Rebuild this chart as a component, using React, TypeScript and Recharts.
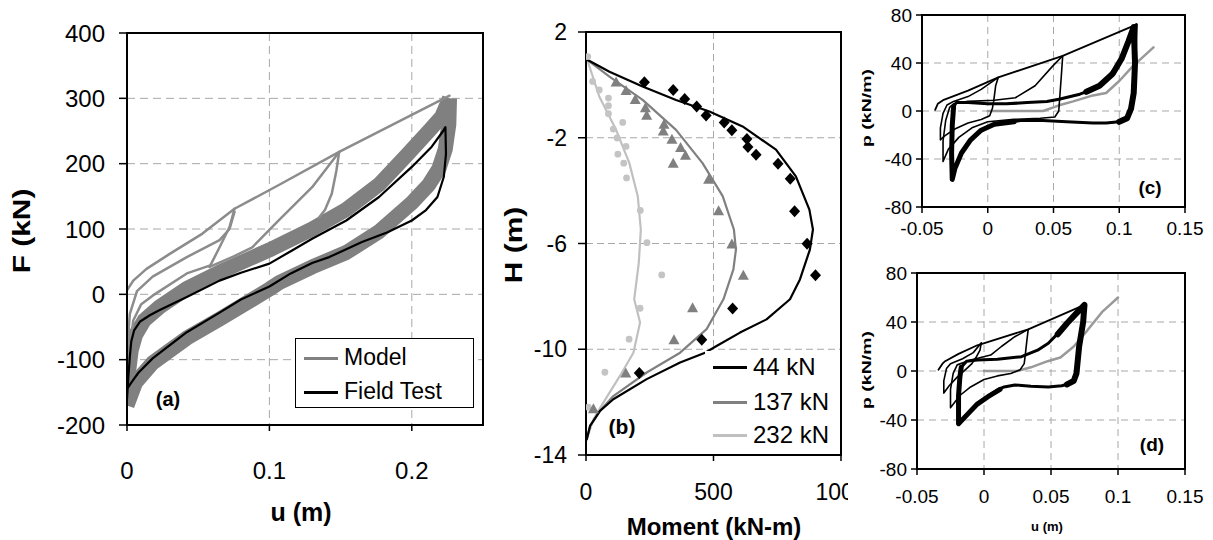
import {
  LineChart,
  ComposedChart,
  Line,
  Scatter,
  XAxis,
  YAxis,
  CartesianGrid,
  ReferenceArea,
} from "recharts";

const FONT = '"Liberation Sans", Arial, Helvetica, sans-serif';

// ---- panel (a): F vs u ----
const uTicksA = [0, 0.1, 0.2];
const fTicksA = [-200, -100, 0, 100, 200, 300, 400];

const modelEnv = [[0, 6], [0.0044, 21], [0.0137, 39], [0.03, 62], [0.053, 93], [0.0755, 131], [0.1063, 167], [0.149, 218], [0.2265, 304]];
const modelLoopA = [[0, -90], [0.002, -30], [0.007, 5], [0.018, 27], [0.042, 57], [0.065, 83], [0.072, 100], [0.0755, 126]];
const modelLoopB = [[0, -120], [0.0044, -40], [0.01, -15], [0.018, -2], [0.042, 32], [0.058, 44]];
const modelUnload1 = [[0.0755, 131], [0.072, 103], [0.065, 72], [0.058, 42]];
const modelReload2 = [[0.058, 42], [0.075, 58], [0.088, 72], [0.106, 112], [0.13, 164], [0.149, 218]];
const modelUnload2 = [[0.149, 218], [0.1471, 190], [0.1438, 154], [0.139, 129], [0.135, 118]];
const modelUpperBand = [[0, -170], [0.001, -120], [0.003, -85], [0.006, -62], [0.012, -40], [0.023, -19], [0.042, 9], [0.065, 34], [0.1, 68], [0.13, 100], [0.154, 130], [0.177, 168], [0.196, 212], [0.212, 250], [0.221, 272], [0.2265, 300]];
const modelLowerBand = [[0.2265, 300], [0.226, 260], [0.2235, 222], [0.219, 192], [0.212, 168], [0.2, 140], [0.177, 96], [0.154, 64], [0.13, 42], [0.107, 18], [0.1, 8], [0.065, -38], [0.042, -67], [0.018, -105], [0.006, -135], [0, -170]];
const fieldTest = [[0, -160], [0.001, -125], [0.002, -95], [0.003, -72], [0.005, -55], [0.009, -42], [0.016, -32], [0.023, -24], [0.042, -4], [0.065, 21], [0.08, 33], [0.1, 47], [0.115, 66], [0.13, 85], [0.154, 113], [0.177, 149], [0.2, 195], [0.214, 226], [0.222, 250], [0.2236, 256], [0.224, 215], [0.2225, 180], [0.218, 149], [0.21, 129], [0.2, 113], [0.183, 95], [0.165, 80], [0.142, 57], [0.13, 48], [0.115, 32], [0.1, 12], [0.08, -8], [0.065, -28], [0.042, -58], [0.018, -98], [0.008, -120], [0.003, -135], [0, -145]];

// ---- panel (b): depth vs moment ----
const mTicksB = [0, 500, 1000];
const hTicksB = [-14, -10, -6, -2, 2];

const line44 = [[5, 0.95], [92, 0.5], [222, -0.06], [353, -0.57], [484, -1.01], [614, -1.57], [745, -2.45], [823, -3.46], [876, -4.72], [890, -5.47], [878, -6.23], [839, -7.36], [800, -8.11], [708, -8.87], [604, -9.37], [512, -9.88], [467, -10.13], [369, -10.5], [238, -11.13], [107, -11.89], [55, -12.33], [16, -12.9], [3, -13.4]];
const line137 = [[5, 0.95], [92, 0.31], [222, -0.57], [353, -1.7], [457, -2.96], [536, -4.21], [580, -5.47], [588, -6.23], [578, -6.98], [539, -8.11], [473, -9.24], [369, -10.13], [238, -10.88], [107, -11.77], [55, -12.33], [16, -12.9], [3, -13.4]];
const line232 = [[5, 0.95], [52, -0.44], [118, -1.7], [170, -2.96], [203, -4.21], [215, -5.47], [207, -6.73], [189, -8.11], [212, -8.99], [186, -10.13], [133, -11.01], [68, -12.02], [29, -12.65], [3, -13.4]];
const pts44 = [[229, 0.1], [342, -0.19], [387, -0.53], [434, -0.82], [471, -1.16], [542, -1.42], [572, -1.72], [631, -2.05], [635, -2.35], [667, -2.64], [753, -2.98], [801, -3.55], [818, -4.78], [867, -6.01], [900, -7.2], [575, -8.46], [454, -9.64], [209, -10.9]];
const pts137 = [[118, 0.09], [157, -0.23], [193, -0.57], [233, -0.88], [238, -1.17], [306, -1.51], [303, -1.76], [337, -2.08], [371, -2.39], [390, -2.68], [342, -2.98], [481, -3.59], [520, -4.78], [572, -6.04], [617, -7.22], [418, -8.45], [345, -9.66], [156, -10.92], [29, -12.27]];
const pts232 = [[7, 1.07], [26, 0.13], [52, -0.19], [88, -0.5], [88, -0.79], [88, -1.09], [144, -1.42], [107, -1.67], [122, -2.01], [157, -2.33], [125, -2.62], [148, -2.96], [159, -3.52], [213, -4.75], [239, -5.97], [297, -7.19], [212, -8.45], [169, -9.62], [74, -10.87], [9, -12.19]];

// ---- panels (c), (d): p-y loops ----
const uTicksCD = [-0.05, 0, 0.05, 0.1, 0.15];
const pTicksCD = [-80, -40, 0, 40, 80];

const cEnv = [[-0.04, 1], [-0.038, 6], [-0.034, 9], [-0.027, 12], [-0.015, 17], [0.008, 28], [0.057, 46], [0.113, 72]];
const cLoop1 = [[0.008, 28], [0.006, 21], [0.0045, 8], [0.0035, 2], [0.0015, -4], [-0.005, -7], [-0.015, -10], [-0.025, -15], [-0.033, -21], [-0.036, -24], [-0.036, -14], [-0.034, -2], [-0.031, 5], [-0.026, 8], [-0.015, 12], [-0.005, 18], [0.008, 28]];
const cLoop2 = [[0.057, 46], [0.056, 30], [0.055, 15], [0.054, 0], [0.051, -5], [0.04, -6], [0.02, -7], [0, -9], [-0.012, -14], [-0.022, -22], [-0.03, -32], [-0.034, -42], [-0.034, -25], [-0.032, -8], [-0.029, 3], [-0.026, 6], [-0.015, 8], [0.005, 9], [0.021, 11], [0.036, 21], [0.049, 37], [0.057, 46]];
const cThick = [[-0.027, -57], [-0.0275, -35], [-0.027, -12], [-0.026, 3], [-0.024, 7], [-0.015, 7], [0, 6], [0.014, 6], [0.03, 7], [0.045, 8], [0.055, 10], [0.07, 14], [0.08, 18], [0.09, 26], [0.1, 40], [0.106, 57], [0.111, 70], [0.113, 72], [0.112, 40], [0.111, 15], [0.109, 2], [0.106, -6], [0.1, -9], [0.09, -10], [0.08, -10], [0.06, -9], [0.042, -8], [0.025, -8], [0.01, -10], [0, -13], [-0.008, -19], [-0.015, -27], [-0.021, -37], [-0.025, -48], [-0.027, -57]];
const cBandR = [[0.075, 16], [0.085, 21], [0.095, 31], [0.102, 44], [0.107, 58], [0.111, 70], [0.112, 40], [0.111, 15], [0.109, 2], [0.106, -6], [0.1, -9]];
const cBandL = [[0.02, -9], [0.005, -11], [-0.005, -16], [-0.013, -24], [-0.02, -35], [-0.025, -48], [-0.027, -57], [-0.0275, -35], [-0.027, -12], [-0.026, 3]];
const cMono = [[0, 0], [0.02, 0], [0.042, 0], [0.05, 3], [0.055, 5], [0.065, 8], [0.08, 13], [0.09, 15], [0.1, 25], [0.11, 37], [0.12, 47], [0.126, 53]];

const dEnv = [[-0.034, 1], [-0.031, 6], [-0.029, 8], [-0.019, 14], [-0.005, 21], [0.033, 34], [0.075, 54]];
const dLoop1 = [[-0.002, 23], [-0.003, 17], [-0.006, 11], [-0.009, 6], [-0.013, 2], [-0.02, -5], [-0.026, -12], [-0.03, -18], [-0.03, -8], [-0.028, 2], [-0.025, 6], [-0.016, 10], [-0.008, 15], [-0.002, 23]];
const dLoop2 = [[0.033, 34], [0.032, 25], [0.031, 15], [0.03, 6], [0.027, 1], [0.02, -2], [0.01, -4], [0, -7], [-0.01, -13], [-0.018, -20], [-0.025, -30], [-0.025, -15], [-0.023, -2], [-0.02, 5], [-0.01, 9], [0.005, 13], [0.013, 20], [0.023, 28], [0.033, 34]];
const dThick = [[-0.019, -43], [-0.019, -20], [-0.018, -5], [-0.017, 3], [-0.013, 8], [-0.005, 9], [0.01, 9.5], [0.028, 11.7], [0.04, 17], [0.048, 22.6], [0.06, 36], [0.068, 46], [0.075, 54], [0.074, 40], [0.071, 20], [0.069, -2], [0.067, -8], [0.065, -10], [0.058, -12], [0.048, -13], [0.035, -12.5], [0.023, -11.4], [0.015, -13], [0.01, -15.5], [-0.002, -24], [-0.007, -29], [-0.013, -36], [-0.019, -43]];
const dBandR = [[0.055, 30], [0.062, 39], [0.068, 46], [0.075, 54], [0.074, 40], [0.071, 20], [0.069, -2], [0.067, -8], [0.062, -11]];
const dBandL = [[0.012, -15], [0.003, -21], [-0.005, -27], [-0.012, -35], [-0.019, -43], [-0.019, -20], [-0.018, -5], [-0.017, 3]];
const dMono = [[0, 0], [0.025, 0], [0.035, 3], [0.0475, 8], [0.057, 11], [0.067, 20], [0.077, 33], [0.088, 48], [0.095, 55], [0.1, 60]];

type Pt = { x: number; y: number };
const pts = (a: number[][]): Pt[] => a.map(([x, y]) => ({ x, y }));

const axisLine = { stroke: "#000", strokeWidth: 2 };
const tickLine = { stroke: "#000", strokeWidth: 1.5 };
const GRID = "#a8a8a8";

const curve = (key: string, data: number[][], color: string, width: number, cap = "round") => (
  <Line
    key={key}
    data={pts(data)}
    dataKey="y"
    type="linear"
    stroke={color}
    strokeWidth={width}
    strokeLinejoin="round"
    strokeLinecap={cap as any}
    dot={false}
    activeDot={false}
    legendType="none"
    isAnimationActive={false}
  />
);

const Diamond = (p: any) => (
  <path d={`M${p.cx},${p.cy - 6}L${p.cx + 5.5},${p.cy}L${p.cx},${p.cy + 6}L${p.cx - 5.5},${p.cy}Z`} fill="#000" />
);
const Triangle = (p: any) => (
  <path d={`M${p.cx},${p.cy - 6}L${p.cx + 5.5},${p.cy + 4}L${p.cx - 5.5},${p.cy + 4}Z`} fill="#808080" />
);
const Dot = (p: any) => <circle cx={p.cx} cy={p.cy} r={3.4} fill="#c4c4c4" />;

// centred text; rotated labels are stretched along their length like the original
function Txt({ x, y, size, bold, rotate, stretch = 1, children }: any) {
  return (
    <div
      style={{
        position: "absolute",
        left: x - 150,
        top: y - 20,
        width: 300,
        height: 40,
        lineHeight: "40px",
        textAlign: "center",
        fontSize: size,
        fontWeight: bold ? "bold" : "normal",
        whiteSpace: "nowrap",
        transform: `${rotate ? "rotate(-90deg) " : ""}scaleX(${stretch})`,
      }}
    >
      {children}
    </div>
  );
}

function LegendRow({ x, y, color, label, size }: any) {
  return (
    <>
      <div style={{ position: "absolute", left: x, top: y - 1.5, width: 34, height: 3, background: color }} />
      <div style={{ position: "absolute", left: x + 40, top: y - size * 0.56, fontSize: size, lineHeight: 1.1, whiteSpace: "nowrap" }}>{label}</div>
    </>
  );
}

export default function App() {
  return (
    <div style={{ position: "absolute", left: 0, top: 0, width: 1213, height: 540, background: "#fff", fontFamily: FONT, color: "#000", overflow: "hidden" }}>
      {/* (a) */}
      <div style={{ position: "absolute", left: 0, top: 0 }}>
        <LineChart width={495} height={540} margin={{ top: 33, right: 12, bottom: 55, left: 0 }}>
          <CartesianGrid strokeDasharray="8 5" stroke={GRID} />
          <XAxis dataKey="x" type="number" domain={[0, 0.25]} ticks={uTicksA} interval={0} allowDataOverflow height={60} tickSize={6} tickMargin={31} tick={{ fill: "#000", fontSize: 24 }} axisLine={axisLine} tickLine={tickLine} />
          <YAxis dataKey="y" type="number" domain={[-200, 400]} ticks={fTicksA} interval={0} allowDataOverflow width={127} tickSize={8} tickMargin={14} tick={{ fill: "#000", fontSize: 24 }} axisLine={axisLine} tickLine={tickLine} />
          <ReferenceArea x1={0} x2={0.25} y1={-200} y2={400} fill="none" stroke="#000" strokeWidth={2} />
          {curve("ub", modelUpperBand, "#808080", 15, "butt")}
          {curve("lb", modelLowerBand, "#808080", 15, "butt")}
          {curve("env", modelEnv, "#8c8c8c", 2.5)}
          {curve("la", modelLoopA, "#8c8c8c", 2.5)}
          {curve("lb2", modelLoopB, "#8c8c8c", 2.5)}
          {curve("u1", modelUnload1, "#8c8c8c", 2.5)}
          {curve("r2", modelReload2, "#8c8c8c", 2.5)}
          {curve("u2", modelUnload2, "#8c8c8c", 2.5)}
          {curve("ft", fieldTest, "#000", 2.2)}
        </LineChart>
      </div>
      <div style={{ position: "absolute", left: 295, top: 338, width: 179, height: 70, border: "1px solid #000", background: "#fff", boxSizing: "border-box" }}>
        <LegendRow x={8} y={19} color="#808080" label="Model" size={23} />
        <LegendRow x={8} y={53} color="#000" label="Field Test" size={23} />
      </div>
      <Txt x={168} y={399} size={20} bold>(a)</Txt>
      <Txt x={301} y={512} size={25} bold>u (m)</Txt>
      <Txt x={22} y={231} size={23} bold rotate stretch={1.3}>F (kN)</Txt>

      {/* (b) */}
      <div style={{ position: "absolute", left: 495, top: 0 }}>
        <ComposedChart width={353} height={540} margin={{ top: 32, right: 7, bottom: 25, left: 0 }}>
          <CartesianGrid strokeDasharray="7 4" stroke={GRID} />
          <XAxis dataKey="x" type="number" domain={[0, 1000]} ticks={mTicksB} interval={0} allowDataOverflow height={60} tickSize={6} tickMargin={23} tick={{ fill: "#000", fontSize: 23 }} axisLine={axisLine} tickLine={tickLine} />
          <YAxis dataKey="y" type="number" domain={[-14, 2]} ticks={hTicksB} interval={0} allowDataOverflow width={91} tickSize={8} tickMargin={11} tick={{ fill: "#000", fontSize: 23 }} axisLine={axisLine} tickLine={tickLine} />
          <ReferenceArea x1={0} x2={1000} y1={-14} y2={2} fill="none" stroke="#000" strokeWidth={2} />
          {curve("l232", line232, "#c0c0c0", 2.2)}
          {curve("l137", line137, "#808080", 2.2)}
          {curve("l44", line44, "#000", 2.2)}
          <Scatter data={pts(pts232)} dataKey="y" shape={Dot} legendType="none" isAnimationActive={false} />
          <Scatter data={pts(pts137)} dataKey="y" shape={Triangle} legendType="none" isAnimationActive={false} />
          <Scatter data={pts(pts44)} dataKey="y" shape={Diamond} legendType="none" isAnimationActive={false} />
        </ComposedChart>
      </div>
      <div style={{ position: "absolute", left: 705, top: 351, width: 135, height: 103, background: "#fff" }}>
        <LegendRow x={8} y={16} color="#000" label="44 kN" size={24} />
        <LegendRow x={8} y={51} color="#808080" label="137 kN" size={24} />
        <LegendRow x={8} y={84} color="#c0c0c0" label="232 kN" size={24} />
      </div>
      <Txt x={622} y={427} size={21} bold>(b)</Txt>
      <Txt x={714} y={527} size={24} bold>Moment (kN-m)</Txt>
      <Txt x={514} y={245} size={23} bold rotate stretch={1.3}>H (m)</Txt>

      {/* (c) */}
      <div style={{ position: "absolute", left: 848, top: 0 }}>
        <LineChart width={365} height={262} margin={{ top: 15, right: 28, bottom: 15, left: 0 }}>
          <CartesianGrid strokeDasharray="7 5" stroke={GRID} />
          <XAxis dataKey="x" type="number" domain={[-0.05, 0.15]} ticks={uTicksCD} interval={0} allowDataOverflow height={40} tickSize={6} tickMargin={9} tick={{ fill: "#000", fontSize: 19 }} axisLine={axisLine} tickLine={tickLine} />
          <YAxis dataKey="y" type="number" domain={[-80, 80]} ticks={pTicksCD} interval={0} allowDataOverflow width={74} tickSize={6} tickMargin={4} tick={{ fill: "#000", fontSize: 19 }} axisLine={axisLine} tickLine={tickLine} />
          <ReferenceArea x1={-0.05} x2={0.15} y1={-80} y2={80} fill="none" stroke="#000" strokeWidth={2} />
          {curve("cm", cMono, "#999", 2.5)}
          {curve("ce", cEnv, "#000", 1.8)}
          {curve("c1", cLoop1, "#000", 1.6)}
          {curve("c2", cLoop2, "#000", 1.6)}
          {curve("ct", cThick, "#000", 3)}
          {curve("cr", cBandR, "#000", 6)}
          {curve("cl", cBandL, "#000", 5)}
        </LineChart>
      </div>
      <Txt x={1150} y={188} size={19} bold>(c)</Txt>
      <Txt x={867} y={108} size={13} bold rotate stretch={1.5}>p (kN/m)</Txt>

      {/* (d) */}
      <div style={{ position: "absolute", left: 848, top: 262 }}>
        <LineChart width={365} height={278} margin={{ top: 11, right: 28, bottom: 31, left: 0 }}>
          <CartesianGrid strokeDasharray="7 5" stroke={GRID} />
          <XAxis dataKey="x" type="number" domain={[-0.05, 0.15]} ticks={uTicksCD} interval={0} allowDataOverflow height={40} tickSize={6} tickMargin={15} tick={{ fill: "#000", fontSize: 19 }} axisLine={axisLine} tickLine={tickLine} />
          <YAxis dataKey="y" type="number" domain={[-80, 80]} ticks={pTicksCD} interval={0} allowDataOverflow width={69} tickSize={6} tickMargin={4} tick={{ fill: "#000", fontSize: 19 }} axisLine={axisLine} tickLine={tickLine} />
          <ReferenceArea x1={-0.05} x2={0.15} y1={-80} y2={80} fill="none" stroke="#000" strokeWidth={2} />
          {curve("dm", dMono, "#999", 2.5)}
          {curve("de", dEnv, "#000", 1.8)}
          {curve("d1", dLoop1, "#000", 1.6)}
          {curve("d2", dLoop2, "#000", 1.6)}
          {curve("dt", dThick, "#000", 3)}
          {curve("dr", dBandR, "#000", 6)}
          {curve("dl", dBandL, "#000", 5)}
        </LineChart>
      </div>
      <Txt x={1152} y={445} size={19} bold>(d)</Txt>
      <Txt x={867} y={370} size={13} bold rotate stretch={1.5}>p (kN/m)</Txt>
      <Txt x={1047} y={527} size={13} bold>u (m)</Txt>
    </div>
  );
}
